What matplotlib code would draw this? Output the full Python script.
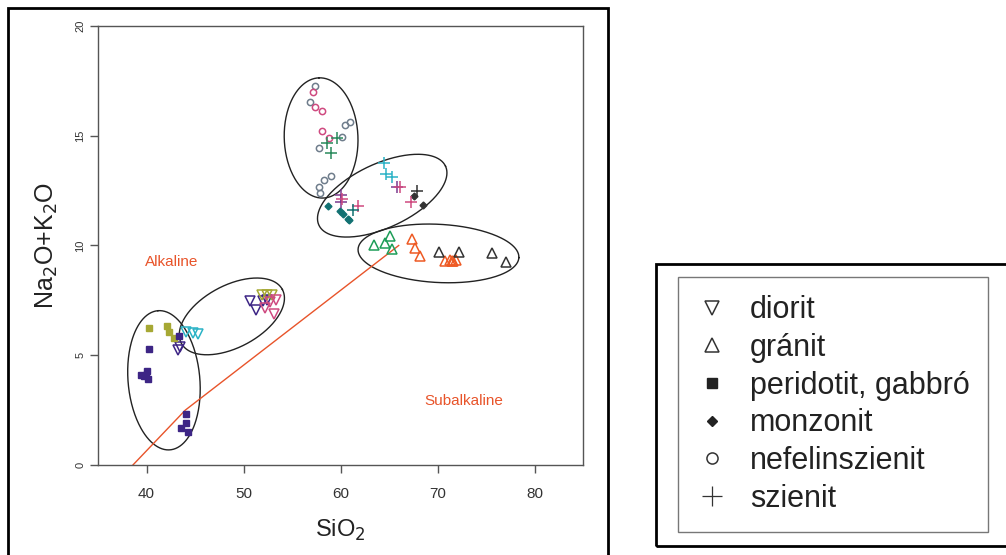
import numpy as np
import matplotlib
matplotlib.use("Agg")
import matplotlib.pyplot as plt
from matplotlib.lines import Line2D
from matplotlib.patches import Rectangle

plt.rcParams["font.family"] = ["Liberation Sans", "DejaVu Sans"]

# --- data: TAS diagram (SiO2 vs Na2O+K2O) ---
diorit_cyan_x = [44.1, 44.8, 45.3]
diorit_cyan_y = [6.06, 6.01, 5.95]
diorit_ind_x = [43.45, 43.2, 50.67, 51.3, 51.98, 52.4]
diorit_ind_y = [5.38, 5.23, 7.45, 7.08, 7.45, 7.5]
diorit_olv_x = [51.9, 52.4, 52.9]
diorit_olv_y = [7.76, 7.76, 7.76]
diorit_pnk_x = [52.7, 53.35, 52.2, 53.1]
diorit_pnk_y = [7.42, 7.53, 7.15, 6.9]

granit_grn_x = [63.5, 64.6, 65.1, 65.3]
granit_grn_y = [10.03, 10.1, 10.42, 9.85]
granit_org_x = [67.4, 67.7, 68.2, 70.8, 71.3, 71.6, 71.9, 71.5]
granit_org_y = [10.3, 9.88, 9.5, 9.3, 9.35, 9.3, 9.32, 9.3]
granit_blk_x = [70.15, 72.2, 75.6, 77.1]
granit_blk_y = [9.7, 9.7, 9.65, 9.24]

perid_olv_x = [40.26, 42.1, 42.3, 42.8]
perid_olv_y = [6.23, 6.32, 6.05, 5.77]
perid_ind_x = [43.35, 40.26, 39.4, 39.9, 40.0, 40.2, 39.7, 44.07, 44.07, 43.56, 44.28]
perid_ind_y = [5.88, 5.29, 4.1, 4.1, 4.3, 3.9, 4.05, 2.32, 1.92, 1.70, 1.5]

monz_tea_x = [58.74, 59.95, 60.3, 60.74, 60.9]
monz_tea_y = [11.79, 11.55, 11.44, 11.21, 11.14]
monz_blk_x = [67.6, 68.5]
monz_blk_y = [12.27, 11.85]

nef_slt_x = [57.37, 56.86, 60.46, 60.98, 60.12, 57.78, 59.0, 58.3, 57.8, 57.9]
nef_slt_y = [17.27, 16.55, 15.49, 15.64, 14.95, 14.44, 13.15, 13.0, 12.68, 12.38]
nef_pnk_x = [57.2, 57.37, 58.1, 58.1, 58.85]
nef_pnk_y = [17.01, 16.32, 16.14, 15.2, 14.92]

szi_grn_x = [59.6, 58.64, 59.0]
szi_grn_y = [14.9, 14.65, 14.2]
szi_cya_x = [64.5, 64.7, 65.27]
szi_cya_y = [13.74, 13.26, 13.14]
szi_pur_x = [65.86, 60.1, 60.0]
szi_pur_y = [12.65, 12.3, 12.0]
szi_pnk_x = [66.1, 67.27, 60.2, 61.84]
szi_pnk_y = [12.65, 12.0, 12.1, 11.82]
szi_blk_x = [67.85]
szi_blk_y = [12.47]
szi_tea_x = [61.25]
szi_tea_y = [11.6]

# alkaline / subalkaline dividing line
div_x = [38.6, 44.0, 66.0]
div_y = [0.0, 2.5, 10.0]

# hand-drawn group outlines: centre (SiO2, alkali), semi-axes (SiO2 units), angle (deg)
ell_cx = [41.8, 48.8, 58.0, 64.3, 70.1]
ell_cy = [3.86, 6.77, 14.9, 12.27, 9.64]
ell_a = [7.2, 5.9, 6.2, 7.2, 8.3]
ell_b = [3.7, 3.2, 3.8, 3.3, 3.0]
ell_ang = [95, 28, 92, 25, -3]

legend_labels = ["diorit", "gránit", "peridotit, gabbró", "monzonit",
                 "nefelinszienit", "szienit"]

CYAN = "#2bb3c6"
INDIGO = "#3d2585"
OLIVE = "#a6a834"
PINK = "#cf4a80"
GREEN = "#1e9e58"
ORANGE = "#ee5a24"
BLACK = "#333333"
SLATE = "#6f7d8c"
DKGREEN = "#2a8a5c"
PURPLE = "#7b3a8e"
TEAL = "#127172"
RED = "#e8542a"

fig = plt.figure(figsize=(10.06, 5.55), dpi=100)
ax = fig.add_axes([98 / 1006, 90 / 555, 485 / 1006, 439 / 555])

open_kw = dict(linestyle="none", markerfacecolor="none", markeredgewidth=1.1)

def open_pts(x, y, m, c, ms):
    ax.plot(x, y, marker=m, color=c, markersize=ms, **open_kw)

def filled_pts(x, y, m, c, ms):
    ax.plot(x, y, marker=m, color=c, markersize=ms, linestyle="none")

# ellipses, drawn in a space where x and y pixels are equal
xlim, ylim = (35, 85), (0, 20)
ratio = (439 / (ylim[1] - ylim[0])) / (485 / (xlim[1] - xlim[0]))
t = np.linspace(0, 2 * np.pi, 300)
for cx, cy, a, b, ang in zip(ell_cx, ell_cy, ell_a, ell_b, ell_ang):
    p = np.radians(ang)
    u = a * np.cos(t) * np.cos(p) - b * np.sin(t) * np.sin(p)
    v = a * np.cos(t) * np.sin(p) + b * np.sin(t) * np.cos(p)
    ax.plot(cx + u, cy + v / ratio, color="#222222", linewidth=1.0)

ax.plot(div_x, div_y, color=RED, linewidth=1.0)

open_pts(diorit_cyan_x, diorit_cyan_y, "v", CYAN, 7)
open_pts(diorit_ind_x, diorit_ind_y, "v", INDIGO, 7)
open_pts(diorit_olv_x, diorit_olv_y, "v", OLIVE, 7)
open_pts(diorit_pnk_x, diorit_pnk_y, "v", PINK, 7)

open_pts(granit_grn_x, granit_grn_y, "^", GREEN, 7)
open_pts(granit_org_x, granit_org_y, "^", ORANGE, 7)
open_pts(granit_blk_x, granit_blk_y, "^", BLACK, 7)

filled_pts(perid_olv_x, perid_olv_y, "s", OLIVE, 5)
filled_pts(perid_ind_x, perid_ind_y, "s", INDIGO, 5)

filled_pts(monz_tea_x, monz_tea_y, "D", TEAL, 3.5)
filled_pts(monz_blk_x, monz_blk_y, "D", BLACK, 3.5)

open_pts(nef_slt_x, nef_slt_y, "o", SLATE, 4.5)
open_pts(nef_pnk_x, nef_pnk_y, "o", PINK, 4.5)

for xs, ys, c in [(szi_grn_x, szi_grn_y, DKGREEN), (szi_cya_x, szi_cya_y, CYAN),
                  (szi_pur_x, szi_pur_y, PURPLE), (szi_pnk_x, szi_pnk_y, PINK),
                  (szi_blk_x, szi_blk_y, BLACK), (szi_tea_x, szi_tea_y, TEAL)]:
    ax.plot(xs, ys, marker="+", color=c, markersize=8, markeredgewidth=1.1,
            linestyle="none")

ax.text(42.6, 9.23, "Alkaline", color=RED, fontsize=11, ha="center", va="center")
ax.text(72.7, 2.9, "Subalkaline", color=RED, fontsize=11, ha="center", va="center")

ax.set_xlim(*xlim)
ax.set_ylim(*ylim)
ax.set_xticks([40, 50, 60, 70, 80])
ax.set_yticks([0, 5, 10, 15, 20])
for s in ax.spines.values():
    s.set_color("#555555")
    s.set_linewidth(1.0)
ax.tick_params(axis="both", colors="#555555", length=6, width=1.0,
               labelcolor="#333333")
ax.tick_params(axis="x", labelsize=11, pad=10)
ax.tick_params(axis="y", labelsize=8, pad=3)
for lbl in ax.get_yticklabels():
    lbl.set_rotation(90)
    lbl.set_va("center")
ax.set_xlabel("SiO$_2$", fontsize=17, color="#222222", labelpad=12)
ax.set_ylabel("Na$_2$O+K$_2$O", fontsize=18, color="#222222", labelpad=11)

# outer frames
fig.patches.append(Rectangle((8 / 1006, -0.05), 600 / 1006, 1.05 - 8 / 555,
                             transform=fig.transFigure, fill=False,
                             edgecolor="black", linewidth=2))
fig.patches.append(Rectangle((656 / 1006, (555 - 546) / 555), 360 / 1006, 282 / 555,
                             transform=fig.transFigure, fill=False,
                             edgecolor="black", linewidth=2))

handles = [
    Line2D([], [], marker="v", color="#333333", markersize=10, **open_kw),
    Line2D([], [], marker="^", color="#333333", markersize=10, **open_kw),
    Line2D([], [], marker="s", color="#222222", markersize=7, linestyle="none"),
    Line2D([], [], marker="D", color="#222222", markersize=5, linestyle="none"),
    Line2D([], [], marker="o", color="#333333", markersize=8, **open_kw),
    Line2D([], [], marker="+", color="#333333", markersize=14, linestyle="none",
           markeredgewidth=0.9),
]
leg = fig.legend(handles, legend_labels, loc="upper left",
                 bbox_to_anchor=(678 / 1006, (555 - 277) / 555, 310 / 1006, 0.0),
                 mode="expand", fontsize=22, frameon=True, fancybox=False,
                 edgecolor="#555555", borderpad=0.6, labelspacing=0.25,
                 handlelength=1.0, handletextpad=0.75, borderaxespad=0)
leg.get_frame().set_linewidth(1.0)
for txt in leg.get_texts():
    txt.set_color("#222222")

fig.savefig("out.png", dpi=100)
